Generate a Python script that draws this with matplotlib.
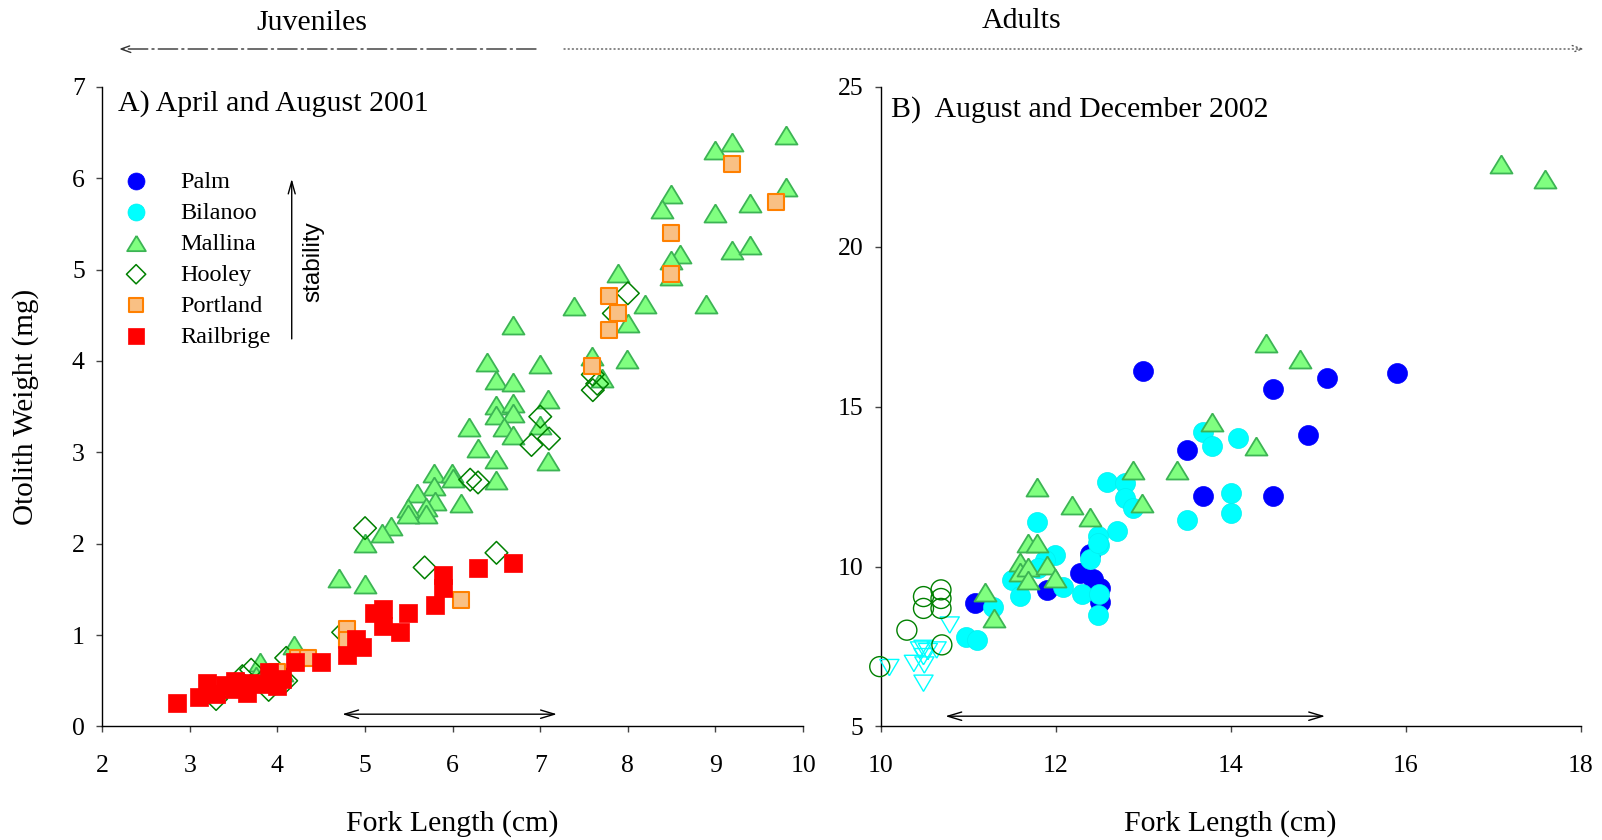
import matplotlib
matplotlib.use("Agg")
import matplotlib.pyplot as plt
import numpy as np

plt.rcParams['font.family'] = ['Liberation Serif', 'DejaVu Serif']
plt.rcParams['lines.scale_dashes'] = False

# ---- panel A: April and August 2001 (juveniles) ----
mallina_a_x = [9.8, 9.19, 8.99, 9.8, 8.49, 8.39, 9.39, 8.99, 8.59, 8.49, 8.49, 9.19, 9.39,
               7.89, 8.19, 8.89, 7.39, 8.0, 6.69, 7.59, 7.99, 7.0, 6.39, 6.5, 6.69, 7.7,
               6.5, 6.69, 6.5, 6.69, 6.59, 7.09, 7.0, 6.69, 6.19, 6.29, 6.5, 7.09, 5.79,
               5.99, 5.79, 6.0, 6.5, 5.59, 5.8, 6.1, 5.7, 5.49, 5.7, 5.49, 5.3, 5.19, 5.0,
               4.7, 5.0, 4.19, 3.8, 3.75, 4.05]
mallina_a_y = [6.47, 6.40, 6.31, 5.90, 5.83, 5.66, 5.73, 5.62, 5.17, 5.10, 4.93, 5.21, 5.27,
               4.96, 4.62, 4.62, 4.60, 4.42, 4.39, 4.05, 4.02, 3.97, 3.99, 3.79, 3.77, 3.81,
               3.52, 3.54, 3.41, 3.43, 3.28, 3.58, 3.30, 3.19, 3.28, 3.05, 2.93, 2.91, 2.77,
               2.77, 2.63, 2.72, 2.70, 2.55, 2.47, 2.45, 2.40, 2.39, 2.33, 2.32, 2.19, 2.12,
               2.01, 1.62, 1.56, 0.89, 0.71, 0.55, 0.60]

hooley_a_x = [8.0, 7.84, 7.6, 7.65, 7.6, 7.0, 7.1, 6.9, 6.2, 6.29, 5.0, 5.68, 6.5,
              3.7, 3.7, 3.9, 4.1, 3.6, 3.3, 4.75, 4.1]
hooley_a_y = [4.74, 4.52, 3.85, 3.75, 3.68, 3.39, 3.15, 3.08, 2.70, 2.67, 2.17, 1.74, 1.90,
              0.62, 0.45, 0.40, 0.50, 0.55, 0.30, 1.03, 0.75]

portland_a_x = [9.19, 9.69, 8.49, 8.49, 7.79, 7.89, 7.79, 7.59, 6.1, 4.79, 4.79, 4.24, 4.35,
                4.0, 3.95]
portland_a_y = [6.16, 5.74, 5.40, 4.95, 4.71, 4.52, 4.34, 3.94, 1.38, 1.07, 0.95, 0.75, 0.75,
                0.60, 0.50]

railbrige_a_x = [2.85, 3.1, 3.2, 3.3, 3.5, 3.52, 3.65, 3.69, 3.8, 3.9, 3.99, 4.05, 4.2, 4.5,
                 4.79, 4.9, 4.97, 5.1, 5.2, 5.21, 5.4, 5.49, 5.8, 5.89, 5.89, 6.29, 6.69,
                 3.4, 3.6]
railbrige_a_y = [0.26, 0.32, 0.47, 0.36, 0.41, 0.50, 0.37, 0.48, 0.46, 0.60, 0.44, 0.52, 0.70,
                 0.71, 0.78, 0.96, 0.87, 1.24, 1.29, 1.10, 1.03, 1.24, 1.33, 1.51, 1.66, 1.73,
                 1.79, 0.45, 0.42]

# ---- panel B: August and December 2002 ----
palm_b_x = [13.0, 14.49, 15.1, 15.9, 14.89, 13.5, 13.69, 14.49, 11.08, 11.9, 12.28, 12.39,
            12.51, 12.51, 12.43]
palm_b_y = [16.1, 15.56, 15.9, 16.05, 14.1, 13.64, 12.21, 12.21, 8.85, 9.27, 9.79, 10.4,
            9.33, 8.9, 9.6]

bilanoo_b_x = [12.59, 12.79, 12.79, 12.89, 13.69, 13.79, 14.09, 14.0, 14.0, 13.5, 11.79, 12.7,
               12.49, 12.5, 12.39, 11.99, 11.88, 11.8, 11.5, 11.59, 12.09, 12.3, 12.5, 11.29,
               10.98, 11.1, 12.49, 12.49]
bilanoo_b_y = [12.65, 12.6, 12.13, 11.82, 14.22, 13.78, 14.01, 12.31, 11.66, 11.45, 11.4, 11.12,
               10.95, 10.67, 10.22, 10.36, 10.2, 9.94, 9.58, 9.08, 9.37, 9.13, 9.15, 8.72,
               7.8, 7.7, 8.48, 10.73]

bilanoo_juv_x = [10.79, 10.1, 10.38, 10.49, 10.49, 10.54, 10.64, 10.45, 10.49, 10.5]
bilanoo_juv_y = [8.17, 6.84, 6.97, 7.44, 7.18, 7.34, 7.39, 7.39, 6.35, 6.92]

hooley_b_x = [9.99, 10.3, 10.49, 10.49, 10.69, 10.69, 10.69, 10.7]
hooley_b_y = [6.87, 8.01, 9.06, 8.69, 9.27, 9.0, 8.69, 7.55]

mallina_b_x = [11.19, 11.3, 11.59, 11.59, 11.69, 11.69, 11.9, 11.99, 11.69, 11.79, 11.79,
               12.19, 12.39, 12.89, 12.99, 13.39, 13.79, 14.29, 14.4, 14.79, 17.09, 17.59]
mallina_b_y = [9.21, 8.38, 10.15, 9.84, 9.99, 9.58, 10.05, 9.63, 10.73, 10.73, 12.48,
               11.92, 11.54, 13.02, 11.98, 13.02, 14.53, 13.77, 16.98, 16.48, 22.6, 22.12]

legend_labels = ['Palm', 'Bilanoo', 'Mallina', 'Hooley', 'Portland', 'Railbrige']

# size range arrows
range_a = (4.74, 7.19, 0.134)
range_b = (10.74, 15.08, 5.32)

tri_up = [(0, 0.82), (-1, -0.82), (1, -0.82), (0, 0.82)]
tri_down = [(0, -0.85), (-1, 0.85), (1, 0.85), (0, -0.85)]

mall_face, mall_edge = '#80ff80', '#3cb454'
port_face, port_edge = '#f9c084', '#ff8000'

fig = plt.figure(figsize=(16.02, 8.4), dpi=100)
ax1 = fig.add_axes([0.0638, 0.1352, 0.4375, 0.7615])
ax2 = fig.add_axes([0.5497, 0.1352, 0.4369, 0.7615])

# panel A
h_mall = ax1.scatter(mallina_a_x, mallina_a_y, s=250, marker=tri_up, facecolor=mall_face,
                     edgecolor=mall_edge, linewidth=1.3, zorder=3)
h_hool = ax1.scatter(hooley_a_x, hooley_a_y, s=133, marker='D', facecolor='none',
                     edgecolor='#008000', linewidth=1.1, zorder=4)
h_port = ax1.scatter(portland_a_x, portland_a_y, s=140, marker='s', facecolor=port_face,
                     edgecolor=port_edge, linewidth=1.5, zorder=5)
h_rail = ax1.scatter(railbrige_a_x, railbrige_a_y, s=180, marker='s', facecolor='#ff0000',
                     edgecolor='#ff0000', linewidth=0.5, zorder=6)

# panel B
h_palm = ax2.scatter(palm_b_x, palm_b_y, s=207, marker='o', facecolor='#0000ff',
                     edgecolor='#0000ff', linewidth=0.5, zorder=3)
h_bila = ax2.scatter(bilanoo_b_x, bilanoo_b_y, s=207, marker='o', facecolor='#00ffff',
                     edgecolor='#00f0f0', linewidth=0.5, zorder=4)
ax2.scatter(bilanoo_juv_x, bilanoo_juv_y, s=190, marker=tri_down, facecolor='none',
            edgecolor='#00ffff', linewidth=1.0, zorder=4, clip_on=False)
ax2.scatter(hooley_b_x, hooley_b_y, s=207, marker='o', facecolor='none',
            edgecolor='#008000', linewidth=1.0, zorder=4, clip_on=False)
ax2.scatter(mallina_b_x, mallina_b_y, s=250, marker=tri_up, facecolor=mall_face,
            edgecolor=mall_edge, linewidth=1.3, zorder=5)

for ax in (ax1, ax2):
    ax.spines['top'].set_visible(False)
    ax.spines['right'].set_visible(False)
    for sp in ('left', 'bottom'):
        ax.spines[sp].set_linewidth(1.0)
    ax.tick_params(direction='out', length=4.5, width=1.0, color='#444444',
                   labelsize=18.5)
    ax.tick_params(axis='x', pad=16)
    ax.tick_params(axis='y', pad=8)
    ax.set_xlabel('Fork Length (cm)', fontsize=21.5, va='baseline')
    ax.xaxis.set_label_coords(0.5, -0.163)

ax1.set_xlim(2, 10)
ax1.set_ylim(0, 7)
ax1.set_xticks(np.arange(2, 11, 1))
ax1.set_yticks(np.arange(0, 8, 1))
ax1.set_ylabel('Otolith Weight (mg)', fontsize=21, labelpad=24)

ax2.set_xlim(10, 18)
ax2.set_ylim(5, 25)
ax2.set_xticks(np.arange(10, 19, 2))
ax2.set_yticks(np.arange(5, 26, 5))

ax1.text(0.022, 0.962, 'A) April and August 2001', transform=ax1.transAxes,
         fontsize=21.5, va='baseline', ha='left')
ax2.text(0.0147, 0.954, 'B)  August and December 2002', transform=ax2.transAxes,
         fontsize=21.5, va='baseline', ha='left')

leg = ax1.legend([h_palm, h_bila, h_mall, h_hool, h_port, h_rail], legend_labels,
                 loc='upper left', bbox_to_anchor=(0.031, 0.869), frameon=False,
                 fontsize=17.5, handlelength=1.0, handletextpad=1.3, labelspacing=0.37,
                 borderpad=0, borderaxespad=0, scatterpoints=1, markerscale=0.85)

# stability arrow
ax1.annotate('', xy=(0.2704, 0.8605), xytext=(0.2704, 0.6015), xycoords='axes fraction',
             arrowprops=dict(arrowstyle='->,head_length=0.9,head_width=0.25', lw=1.0,
                             color='black'))
ax1.text(0.3008, 0.7265, 'stability', transform=ax1.transAxes, rotation=90,
         fontsize=17.5, va='center', ha='center', family=['Liberation Sans', 'DejaVu Sans'])

# size range double arrows
for ax, (x0, x1, yy) in ((ax1, range_a), (ax2, range_b)):
    ax.annotate('', xy=(x0, yy), xytext=(x1, yy), xycoords='data',
                arrowprops=dict(arrowstyle='<->,head_length=1.0,head_width=0.3', lw=1.0,
                                color='black', shrinkA=0, shrinkB=0))

# juvenile / adult banner
top = fig.add_axes([0, 0, 1, 1], zorder=-1)
top.set_xlim(0, 1602)
top.set_ylim(840, 0)
top.axis('off')
top.annotate('', xy=(119, 49), xytext=(536, 49), xycoords='data',
             arrowprops=dict(arrowstyle='->,head_length=0.7,head_width=0.25', lw=1.0,
                             color='#333333', linestyle=(0, (14, 3, 1.5, 3)),
                             shrinkA=0, shrinkB=0))
top.annotate('', xy=(1584, 49), xytext=(564, 49), xycoords='data',
             arrowprops=dict(arrowstyle='->,head_length=0.7,head_width=0.25', lw=1.0,
                             color='#555555', linestyle=(0, (0.8, 2.2)),
                             shrinkA=0, shrinkB=0))
top.text(312, 29.5, 'Juveniles', fontsize=21.5, ha='center', va='baseline')
top.text(1022, 27.5, 'Adults', fontsize=21.5, ha='center', va='baseline')

fig.savefig('out.png', dpi=100)
